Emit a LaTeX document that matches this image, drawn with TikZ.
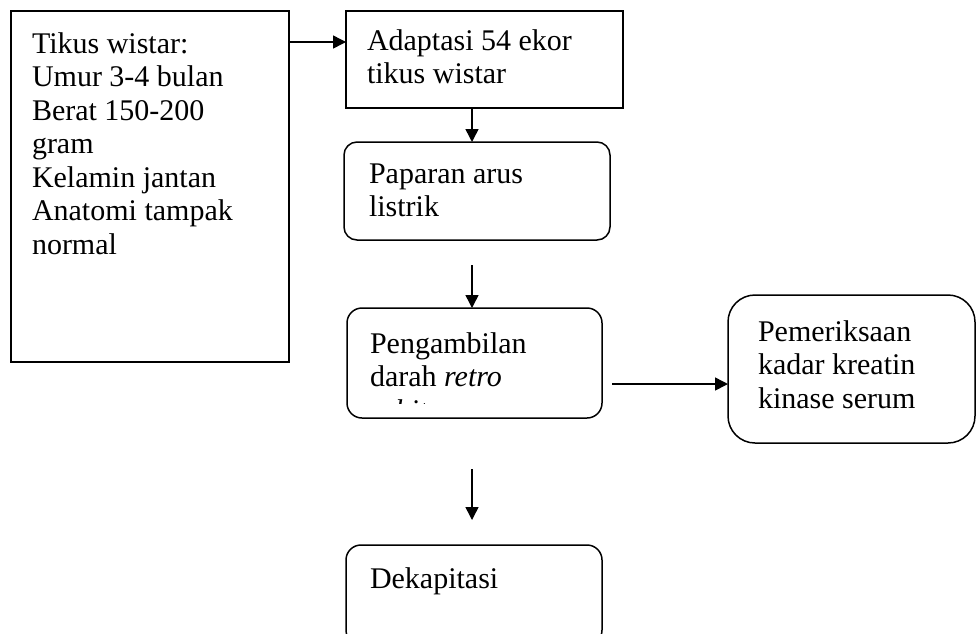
\documentclass[tikz,border=0pt]{standalone}
\usepackage{fontspec}
\setmainfont{Liberation Serif}
\usepackage{tikz}
\usetikzlibrary{arrows.meta}
\newcommand{\boxtext}[3]{\parbox[t][#2][t]{#1}{\raggedright\strut #3}}

\begin{document}
\begin{tikzpicture}[x=1pt, y=-1pt, line width=1.5pt,
        font=\fontsize{30}{33.5}\selectfont,
        stepbox/.style={draw, anchor=north west, inner xsep=21pt, outer sep=0pt},
        roundbox/.style={stepbox, rounded corners=#1},
        flow/.style={-{Triangle[length=13pt, width=13pt]}}]
        \useasboundingbox (0, 0) rectangle (976, 633);
        \node [stepbox, inner ysep=19pt] (tikus) at (11, 11)
            {\boxtext{236pt}{313pt}{Tikus wistar:\\ Umur 3-4 bulan\\ Berat 150-200\\ gram\\ Kelamin jantan\\ Anatomi tampak\\ normal}};
        \node [stepbox, inner ysep=16pt] (adaptasi) at (346, 11)
            {\boxtext{235pt}{65pt}{Adaptasi 54 ekor\\ tikus wistar}};
        \node [roundbox=13pt, inner xsep=25pt, inner ysep=18pt] (paparan) at (344, 142)
            {\boxtext{216pt}{62pt}{Paparan arus\\ listrik}};
        \node [roundbox=15pt, inner xsep=23pt, inner ysep=22pt] (pengambilan) at (347, 308)
            {\boxtext{209pt}{66pt}{Pengambilan\\ darah \textit{retro}}};
        \begin{scope}
            \clip (pengambilan.north west) rectangle ([yshift=15pt]pengambilan.south east);
            \node [anchor=base west, inner sep=0pt] (orbita) at (368, 420) {\textit{orbita}};
        \end{scope}
        \node [roundbox=27pt, inner xsep=30pt, inner ysep=23pt] (pemeriksaan) at (728, 295)
            {\boxtext{187pt}{102pt}{Pemeriksaan\\ kadar kreatin\\ kinase serum}};
        \node [roundbox=15pt, inner xsep=24pt, inner ysep=20pt] (dekapitasi) at (346, 545)
            {\boxtext{208pt}{60pt}{Dekapitasi}};
        % arrows
        \coordinate (row1) at (0, 42);
        \coordinate (spine) at (472, 0);
        \coordinate (a3) at (472, 265);
        \coordinate (a4) at (612, 384);
        \coordinate (a5) at (472, 469);
        \coordinate (a5end) at (472, 520);
        \draw [flow] (tikus.east |- row1) -- (adaptasi.west |- row1);
        \draw [flow] (adaptasi.south -| spine) -- (paparan.north -| spine);
        \draw [flow] (a3) -- (pengambilan.north -| a3);
        \draw [flow] (a4) -- (pemeriksaan.west |- a4);
        \draw [flow] (a5) -- (a5end);
    \end{tikzpicture}
\end{document}
